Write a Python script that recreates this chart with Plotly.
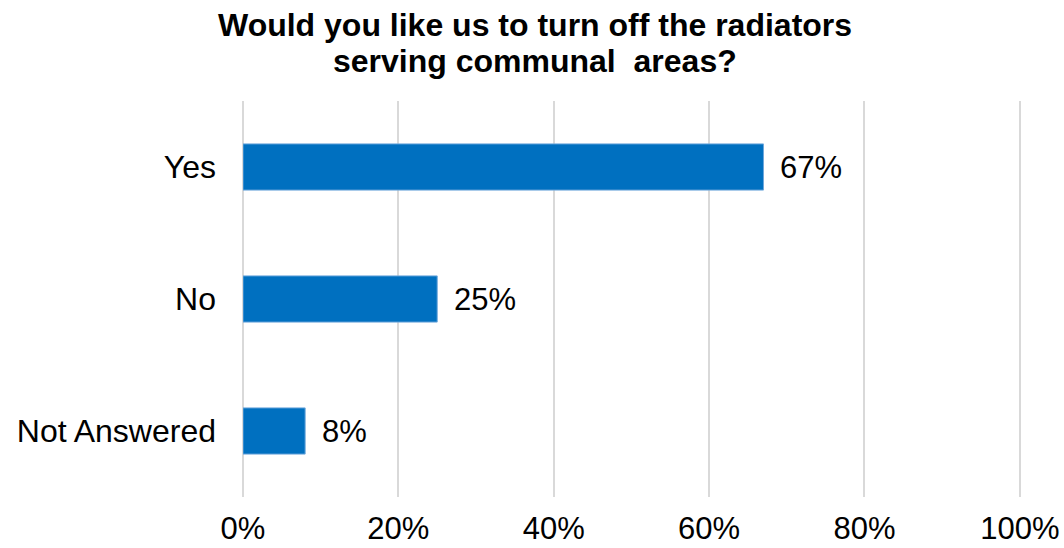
import plotly.graph_objects as go

# Survey responses
categories = ["Yes", "No", "Not Answered"]
shares = [67, 25, 8]
tick_vals = [0, 20, 40, 60, 80, 100]
tick_text = ["0%", "20%", "40%", "60%", "80%", "100%"]
title_lines = ["Would you like us to turn off the radiators", "serving communal  areas?"]

FONT = "Liberation Sans, Arial, sans-serif"

fig = go.Figure(
    go.Bar(
        x=shares,
        y=categories,
        orientation="h",
        marker=dict(color="#0070C0", line=dict(color="#6FA8DC", width=1)),
        cliponaxis=False,
    )
)

# Value labels placed just past the end of each bar
for cat, val in zip(categories, shares):
    fig.add_annotation(
        x=val, y=cat, xref="x", yref="y",
        text=f"{val}%", showarrow=False,
        xanchor="left", yanchor="middle", xshift=15,
        font=dict(family=FONT, size=31, color="#000000"),
    )

# Two-line bold heading
for line, ypos in zip(title_lines, [1.1919, 1.101]):
    fig.add_annotation(
        x=0.3753, y=ypos, xref="paper", yref="paper",
        text=f"<b>{line}</b>",
        showarrow=False, xanchor="center", yanchor="middle",
        font=dict(family=FONT, size=32, color="#000000"),
    )

fig.update_layout(
    width=1064,
    height=548,
    margin=dict(l=243, r=43, t=101, b=51, autoexpand=False),
    paper_bgcolor="white",
    plot_bgcolor="white",
    bargap=0.65,
    showlegend=False,
    font=dict(family=FONT, size=31, color="#000000"),
    xaxis=dict(
        range=[0, 100.15],
        tickvals=tick_vals,
        ticktext=tick_text,
        showgrid=True,
        gridcolor="#D9D9D9",
        gridwidth=2,
        zeroline=True,
        zerolinecolor="#D9D9D9",
        zerolinewidth=2,
        showline=False,
        ticks="",
        ticklabelstandoff=10,
        automargin=False,
    ),
    yaxis=dict(
        categoryorder="array",
        categoryarray=categories,
        autorange="reversed",
        showgrid=False,
        zeroline=False,
        showline=False,
        ticks="",
        ticklabelstandoff=26,
        tickfont=dict(family=FONT, size=32, color="#000000"),
        automargin=False,
    ),
)

fig.write_html("out.html")
